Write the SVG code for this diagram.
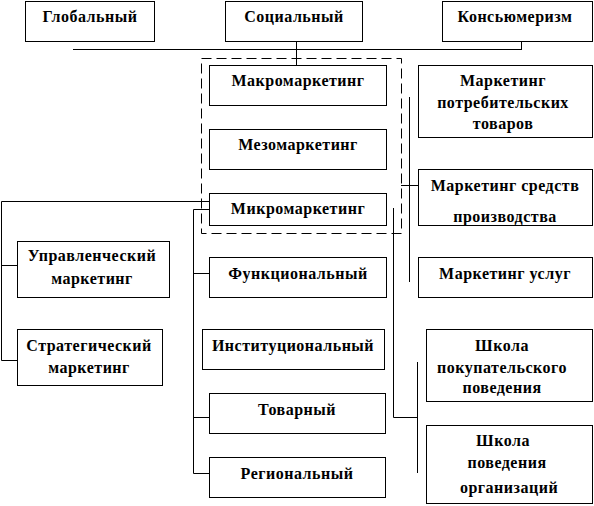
<svg xmlns="http://www.w3.org/2000/svg" width="594" height="506" viewBox="0 0 594 506">
<style>
rect.b{fill:#fff;stroke:#000;stroke-width:1}
text{font-family:"Liberation Serif","Times New Roman",serif;font-size:16px;font-weight:bold;letter-spacing:0.5px;fill:#000;text-anchor:middle}
.c line,.c polyline{stroke:#000;stroke-width:1;fill:none}
.d{fill:none;stroke:#000;stroke-width:1;stroke-dasharray:10 5}
</style>
<rect width="594" height="506" fill="#fff"/>
<g class="c" id="connectors">
<line x1="73" y1="49.5" x2="521" y2="49.5"/>
<line x1="521.5" y1="41" x2="521.5" y2="50"/>
<line x1="296.5" y1="41" x2="296.5" y2="65"/>
<line x1="409.5" y1="97" x2="409.5" y2="282"/>
<line x1="401" y1="185.5" x2="418" y2="185.5"/>
<polyline points="393.5,208 393.5,417.5 417.5,417.5"/>
<line x1="417.5" y1="362" x2="417.5" y2="473"/>
<polyline points="209,201.5 1.5,201.5 1.5,360.5 17,360.5"/>
<line x1="1.5" y1="265.5" x2="17" y2="265.5"/>
<polyline points="209,209.5 193.5,209.5 193.5,473.5 209,473.5"/>
<line x1="193.5" y1="273.5" x2="209" y2="273.5"/>
<line x1="193.5" y1="417.5" x2="209" y2="417.5"/>
</g>
<rect class="d" id="macro-group" x="201.5" y="58.5" width="200" height="175"/>
<g id="global"><rect class="b" x="25.5" y="1.5" width="129" height="40"/><text x="90" y="22">Глобальный</text></g>
<g id="social"><rect class="b" x="225.5" y="1.5" width="137" height="40"/><text x="294" y="22">Социальный</text></g>
<g id="consumerism"><rect class="b" x="442.5" y="1.5" width="150" height="40"/><text x="515" y="22">Консьюмеризм</text></g>
<g id="macro"><rect class="b" x="209.5" y="65.5" width="177" height="40"/><text x="298" y="86">Макромаркетинг</text></g>
<g id="meso"><rect class="b" x="209.5" y="129.5" width="177" height="40"/><text x="298" y="150">Мезомаркетинг</text></g>
<g id="micro"><rect class="b" x="209.5" y="193.5" width="177" height="32"/><text x="298" y="214">Микромаркетинг</text></g>
<g id="consumer-goods"><rect class="b" x="418.5" y="65.5" width="174" height="72"/><text x="503" y="86">Маркетинг</text><text x="503" y="108">потребительских</text><text x="503" y="129">товаров</text></g>
<g id="industrial"><rect class="b" x="418.5" y="169.5" width="174" height="56"/><text x="505" y="191">Маркетинг средств</text><text x="505" y="222">производства</text></g>
<g id="services"><rect class="b" x="418.5" y="257.5" width="174" height="40"/><text x="505" y="279">Маркетинг услуг</text></g>
<g id="managerial"><rect class="b" x="17.5" y="241.5" width="152" height="56"/><text x="92" y="261">Управленческий</text><text x="92" y="284">маркетинг</text></g>
<g id="strategic"><rect class="b" x="17.5" y="329.5" width="145" height="56"/><text x="89" y="351">Стратегический</text><text x="89" y="373">маркетинг</text></g>
<g id="functional"><rect class="b" x="209.5" y="257.5" width="177" height="40"/><text x="298" y="279">Функциональный</text></g>
<g id="institutional"><rect class="b" x="202.5" y="329.5" width="182" height="40"/><text x="293" y="351">Институциональный</text></g>
<g id="product"><rect class="b" x="209.5" y="393.5" width="176" height="40"/><text x="297" y="415">Товарный</text></g>
<g id="regional"><rect class="b" x="209.5" y="457.5" width="176" height="40"/><text x="297" y="479">Региональный</text></g>
<g id="buyer-school"><rect class="b" x="426.5" y="329.5" width="166" height="72"/><text x="502" y="351">Школа</text><text x="502" y="373">покупательского</text><text x="502" y="393">поведения</text></g>
<g id="org-school"><rect class="b" x="426.5" y="425.5" width="166" height="78"/><text x="503" y="446">Школа</text><text x="507" y="468">поведения</text><text x="509" y="493">организаций</text></g>
</svg>
